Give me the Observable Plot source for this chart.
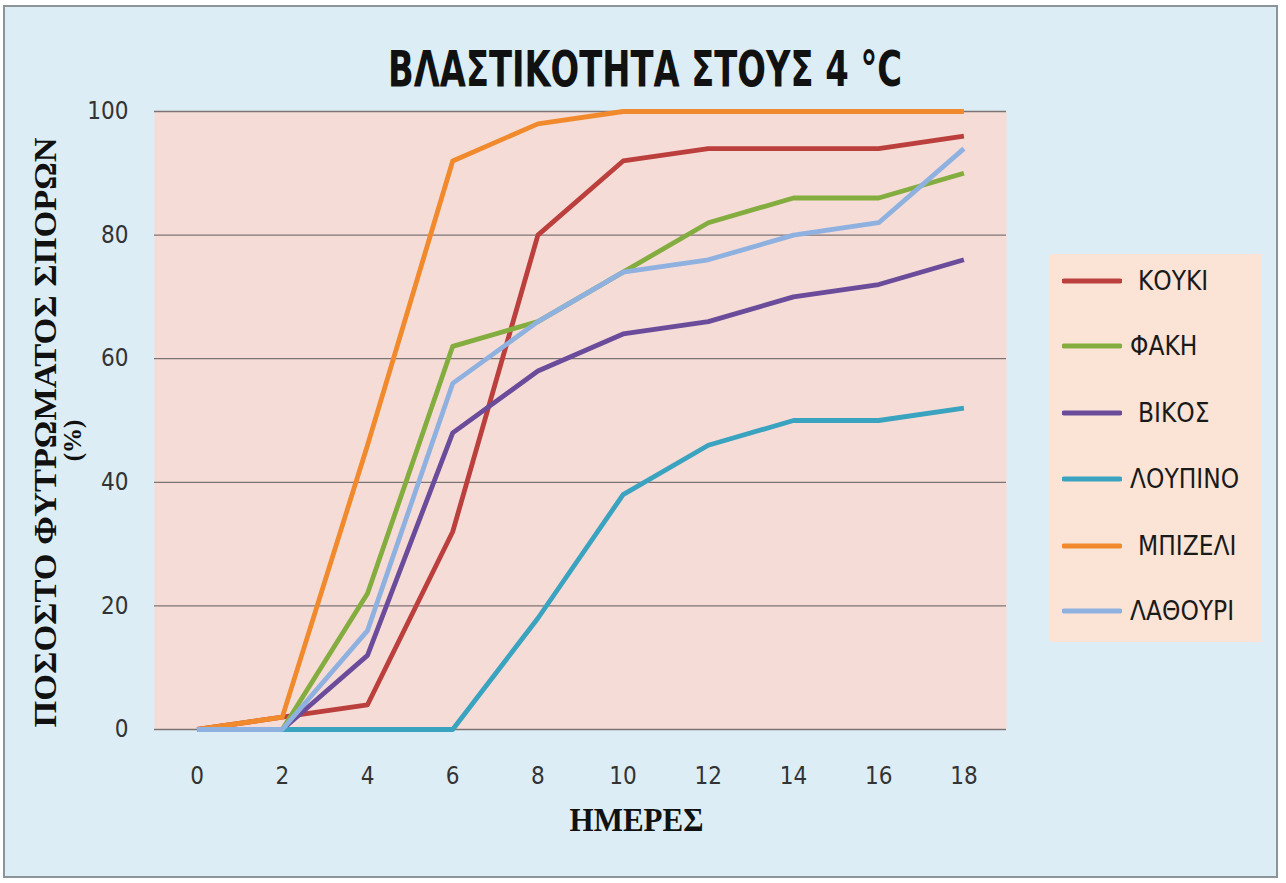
<!DOCTYPE html>
<html>
<head>
<meta charset="utf-8">
<script src="https://cdn.jsdelivr.net/npm/d3@7"></script>
<script src="https://cdn.jsdelivr.net/npm/@observablehq/plot@0.6"></script>
<style>
  html, body { margin: 0; padding: 0; background: #ffffff; }
  #wrap { position: relative; width: 1286px; height: 883px; overflow: hidden; }
  #panel { position: absolute; left: 3px; top: 5px; width: 1275px; height: 873px;
           background: #dcedf5; border: 2px solid #8c9499; box-sizing: border-box; }
  #chart { position: absolute; left: 0; top: 0; }
  #title { position: absolute; left: 388px; top: 40px; white-space: nowrap;
           font-family: "DejaVu Sans Condensed", "DejaVu Sans", sans-serif;
           font-weight: bold; font-size: 50px; color: #111; transform-origin: 0 0; }
  #legend { position: absolute; left: 1050px; top: 254px; width: 212px; height: 388px;
            background: #fbe4d6; }
  .item { position: absolute; left: 12px; height: 30px; display: flex; align-items: center;
          font-family: "DejaVu Sans Condensed", sans-serif;
          font-size: 26px; color: #1a1a1a; }
  .item svg { margin-right: 4px; }
</style>
</head>
<body>
<div id="wrap">
  <div id="panel"></div>
  <div id="chart"></div>
  <div id="title">ΒΛΑΣΤΙΚΟΤΗΤΑ ΣΤΟΥΣ 4 °C</div>
  <div id="legend"></div>
</div>
<script>
const days = [0, 2, 4, 6, 8, 10, 12, 14, 16, 18];
const seriesNames = ["ΚΟΥΚΙ", "ΦΑΚΗ", "ΒΙΚΟΣ", "ΛΟΥΠΙΝΟ", "ΜΠΙΖΕΛΙ", "ΛΑΘΟΥΡΙ"];
const koyki   = [0, 2, 4, 32, 80, 92, 94, 94, 94, 96];
const fakh    = [0, 0, 22, 62, 66, 74, 82, 86, 86, 90];
const bikos   = [0, 0, 12, 48, 58, 64, 66, 70, 72, 76];
const loypino = [0, 0, 0, 0, 18, 38, 46, 50, 50, 52];
const mpizeli = [0, 2, 46, 92, 98, 100, 100, 100, 100, 100];
const lathoyri= [0, 0, 16, 56, 66, 74, 76, 80, 82, 94];
const yTicks = [0, 20, 40, 60, 80, 100];
const colors = ["#bb3f3c", "#84ad3f", "#6b4c9b", "#3aa3bf", "#f08a2c", "#8fb1e0"];

const allValues = [koyki, fakh, bikos, loypino, mpizeli, lathoyri];
const data = [];
seriesNames.forEach((name, i) => {
  days.forEach((d, j) => data.push({series: name, day: d, value: allValues[i][j]}));
});

const chart = Plot.plot({
  width: 1286,
  height: 883,
  marginLeft: 154,
  marginRight: 280,
  marginTop: 111,
  marginBottom: 154,
  style: {background: "transparent", fontFamily: "'DejaVu Sans Condensed', sans-serif"},
  x: {domain: [-1, 19], ticks: days, tickSize: 0, tickPadding: 34, label: null, tickFormat: d => String(d)},
  y: {domain: [0, 100], ticks: yTicks, tickSize: 0, tickPadding: 24, label: null},
  color: {domain: seriesNames, range: colors},
  marks: [
    Plot.frame({fill: "#f6dcd7", stroke: null}),
    Plot.gridY(yTicks, {stroke: "#7c7474", strokeOpacity: 1, strokeWidth: 1.3}),
    Plot.axisX({ticks: days, tickSize: 0, tickPadding: 37, fontSize: 24, fill: "#333", label: null}),
    Plot.axisY({ticks: yTicks, tickSize: 0, tickPadding: 26, fontSize: 24, fill: "#333", label: null}),
    Plot.line(data, {x: "day", y: "value", z: "series", stroke: "series", strokeWidth: 4.8, strokeLinejoin: "round", strokeLinecap: "butt"}),
    Plot.text(["ΠΟΣΟΣΤΟ ΦΥΤΡΩΜΑΤΟΣ ΣΠΟΡΩΝ"], {frameAnchor: "left", textAnchor: "middle", dx: -108, dy: 12, rotate: -90, fontSize: 31, fontWeight: "bold", fontFamily: "'Liberation Serif', serif", fill: "#111", className: "ylab1"}),
    Plot.text(["(%)"], {frameAnchor: "left", textAnchor: "middle", dx: -82, dy: 20, rotate: -90, fontSize: 25, fontWeight: "bold", fontFamily: "'Liberation Serif', serif", fill: "#111"}),
    Plot.text(["ΗΜΕΡΕΣ"], {frameAnchor: "bottom", textAnchor: "middle", dy: 101, dx: 56, fontSize: 34, fontWeight: "bold", fontFamily: "'Liberation Serif', serif", fill: "#111", className: "xlab"})
  ]
});
document.getElementById("chart").appendChild(chart);

// fit the condensed label widths
function fit(sel, len) {
  const t = chart.querySelector(sel + " text");
  if (t) { t.setAttribute("textLength", len); t.setAttribute("lengthAdjust", "spacingAndGlyphs"); }
}
fit(".ylab1", 590);
fit(".xlab", 134);

const title = document.getElementById("title");
const w = title.getBoundingClientRect().width;
title.style.transform = `scaleX(${514 / w})`;

const legend = document.getElementById("legend");
const legendTops = [12, 77, 144, 210, 277, 342];
const legendGap = [12, 4, 12, 4, 12, 4];
seriesNames.forEach((name, i) => {
  const div = document.createElement("div");
  div.className = "item";
  div.style.top = legendTops[i] + "px";
  div.innerHTML = `<svg width="60" height="10"><line x1="2" y1="5" x2="58" y2="5" stroke="${colors[i]}" stroke-width="5" stroke-linecap="round"/></svg><span style="margin-left:${legendGap[i]}px">${name}</span>`;
  legend.appendChild(div);
});
</script>
</body>
</html>
